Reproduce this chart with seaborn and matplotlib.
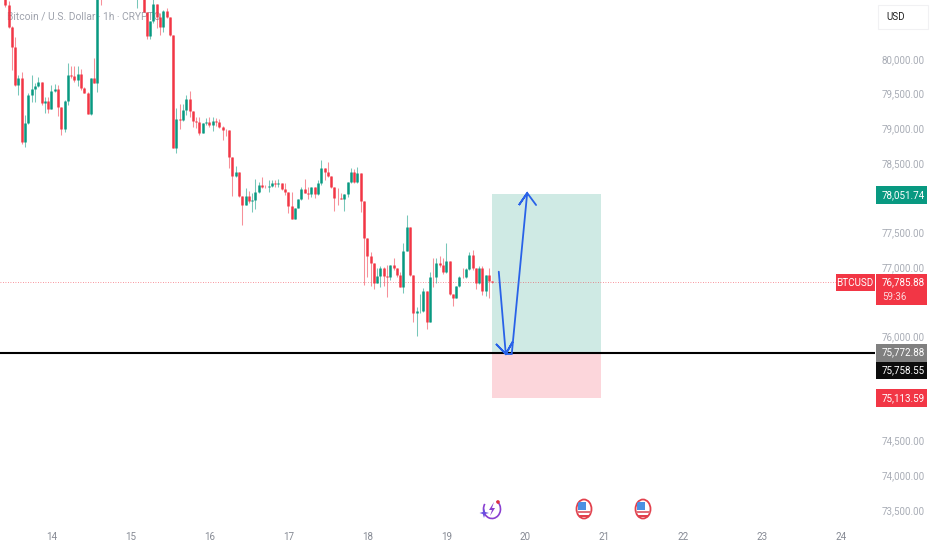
import matplotlib
matplotlib.use("Agg")
import matplotlib.pyplot as plt
from matplotlib.patches import Rectangle, Ellipse, Arc, Circle, Polygon
import numpy as np
import pandas as pd
import seaborn as sns

# hourly candles, readings (hour 0 = start of day 14, first candle is hour -14)
first_open = 80900
closes = [80783, 80466, 80168, 79620, 79731, 78799, 79073, 79481, 79568, 79611,
          79664, 79361, 79395, 79279, 79544, 79563, 79313, 78991, 79395, 79769,
          79755, 79697, 79779, 79582, 79515, 79207, 79721, 79659, 81400, 81050,
          81250, 81400, 81520, 81380, 81460, 81300, 81410, 81250, 81180, 81020,
          81150, 80990, 80682, 80331, 80552, 80792, 80600, 80456, 80687, 80600,
          80346, 78722, 79131, 79125, 79265, 79428, 79255, 79111, 79087, 78938,
          79083, 79090, 79054, 79111, 79092, 79025, 78977, 78970, 78593, 78319,
          78367, 78031, 77901, 78031, 77959, 77965, 78079, 78185, 78151, 78149,
          78175, 78209, 78199, 78218, 78122, 78079, 77887, 77690, 77858, 77983,
          78122, 78074, 78055, 78151, 78055, 78209, 78434, 78377, 78319, 78151,
          78002, 77992, 77985, 78050, 78223, 78377, 78223, 78362, 77954, 77416,
          77161, 77065, 76777, 76873, 76993, 76873, 76859, 77031, 76983, 76887,
          76719, 77238, 77584, 76887, 76345, 76365, 76375, 76657, 76205, 76863,
          76855, 77055, 77027, 76935, 77089, 76609, 76561, 76729, 76863, 76855,
          76969, 77175, 76983, 76767, 76983, 76657, 76887, 76806, 76786]
highs = [80950, 80830, 80480, 80312, 79769, 79817, 79193, 79505, 79769, 79649,
         79736, 79664, 79457, 79457, 79625, 79635, 79625, 79313, 79409, 79937,
         79899, 79899, 79899, 79856, 79590, 79529, 79721, 80009, 81450, 81420,
         81310, 81460, 81580, 81530, 81510, 81490, 81470, 81430, 81290, 81210,
         81200, 81150, 81000, 80682, 80552, 80860, 80792, 80658, 80706, 80730,
         80600, 80346, 79289, 79351, 79351, 79481, 79539, 79255, 79169, 79159,
         79083, 79145, 79169, 79159, 79145, 79131, 79035, 78990, 78977, 78593,
         78458, 78367, 78031, 78136, 78103, 78064, 78266, 78232, 78305, 78185,
         78257, 78257, 78257, 78266, 78218, 78209, 78079, 78088, 77858, 77983,
         78151, 78271, 78160, 78160, 78160, 78257, 78545, 78434, 78511, 78319,
         78151, 78136, 78064, 78050, 78223, 78425, 78410, 78449, 78362, 77954,
         77416, 77224, 77065, 76983, 77022, 77007, 77031, 77031, 77127, 76995,
         76935, 77344, 77752, 77584, 76887, 76431, 76609, 76695, 76657, 76935,
         77127, 77127, 77161, 77127, 77344, 77089, 76609, 76729, 76873, 76983,
         76983, 77224, 77248, 76983, 77017, 77022, 76887, 76983, 76806]
lows = [80750, 80440, 79841, 79611, 79481, 78780, 78737, 79060, 79385, 79385,
        79592, 79337, 79217, 79217, 79279, 79529, 79183, 78910, 78953, 79337,
        79721, 79673, 79611, 79553, 79505, 79207, 79193, 79649, 79529, 80778,
        81020, 81200, 81350, 81320, 81350, 81250, 81260, 81200, 81130, 80960,
        80730, 80900, 80682, 80293, 80293, 80514, 80442, 80346, 80394, 80586,
        80336, 78713, 78641, 78986, 79111, 79193, 79169, 79025, 79001, 78905,
        78929, 79049, 79025, 78967, 79034, 79001, 78833, 78890, 78425, 78031,
        78305, 78016, 77608, 77896, 77920, 77791, 77839, 78064, 78136, 78136,
        78088, 78151, 78160, 78160, 78112, 78040, 77776, 77690, 77690, 77848,
        77968, 78064, 77983, 78016, 77992, 78040, 78185, 78257, 78305, 78140,
        77815, 77896, 77980, 77815, 78016, 78209, 78209, 78209, 77800, 76743,
        76863, 76729, 76681, 76767, 76719, 76729, 76565, 76815, 76959, 76863,
        76710, 76623, 77238, 76880, 76215, 76013, 76335, 76360, 76109, 76205,
        76719, 76767, 77007, 76902, 76911, 76600, 76445, 76551, 76710, 76839,
        76839, 76959, 76959, 76681, 76758, 76599, 76590, 76551, 76770]

# position tool
target_price = 78051.74
entry_price = 75772.88
stop_price = 75113.59
box_start = 133.9
box_end = 167.0
level_price = 75758.55
last_price = 76785.88

# hand-drawn blue path (two strokes, each ends in an arrow head)
arrow_hours = [135.96, 138.09, 135.14, 138.09, 140.2, 138.09, 139.9, 144.6, 142.1, 144.6, 147.3]
arrow_prices = [76935, 75749, 75893, 75749, 75926, 75749, 75749, 78069, 77896, 78069, 77896]

# 78,000 / 76,500 / 75,500 / 75,000 sit behind the price badges in the reference
price_ticks = [80000, 79500, 79000, 78500, 77500, 77000, 76000, 74500, 74000, 73500]
days = [14, 15, 16, 17, 18, 19, 20, 21, 22, 23, 24]

GREEN = "#089981"
RED = "#f23645"
GREY_TXT = "#a9adb6"
LABEL_SIZE = 7.1

sns.set_style("white")
plt.rcParams["font.family"] = ["Roboto", "DejaVu Sans"]

hours = np.arange(len(closes)) - 14
opens = [first_open] + closes[:-1]
df = pd.DataFrame({"hour": hours, "open": opens, "high": highs, "low": lows, "close": closes})
df["dir"] = np.where(df["close"] >= df["open"], "up", "down")
colors = {"up": GREEN, "down": RED}

wicks = df.melt(id_vars=["hour", "dir"], value_vars=["high", "low"], value_name="price")
bodies = df.melt(id_vars=["hour", "dir"], value_vars=["open", "close"], value_name="price")

fig = plt.figure(figsize=(9.32, 5.5), dpi=100)
ax = fig.add_axes([0, 27 / 550, 875 / 932, 523 / 550])

ax.text(7 / 875, 1 - 16 / 523, "Bitcoin / U.S. Dollar · 1h · CRYPTO", transform=ax.transAxes,
        fontsize=7.4, color="#9ea2ac", va="center", zorder=0.5)

ax.add_patch(Rectangle((box_start, entry_price), box_end - box_start, target_price - entry_price,
                       color="#cfeae4", lw=0, zorder=1))
ax.add_patch(Rectangle((box_start, stop_price), box_end - box_start, entry_price - stop_price,
                       color="#fcd6db", lw=0, zorder=1))

ax.axhline(last_price, color=RED, lw=0.6, ls=(0, (1, 2)), alpha=0.7, zorder=1.5)

sns.lineplot(data=wicks, x="hour", y="price", hue="dir", units="hour", estimator=None,
             palette=colors, linewidth=0.75, alpha=0.55, legend=False, ax=ax, zorder=2,
             solid_capstyle="butt")
sns.lineplot(data=bodies, x="hour", y="price", hue="dir", units="hour", estimator=None,
             palette=colors, linewidth=1.8, legend=False, ax=ax, zorder=3,
             solid_capstyle="butt")

ax.axhline(level_price, color="black", lw=1.5, zorder=4)
ax.plot(arrow_hours, arrow_prices, color="#2962e8", lw=1.3, zorder=5, solid_joinstyle="miter")

ax.set_xlim(-15.62, 250.3)
ax.set_ylim(73314, 80850)
ax.set_xlabel("")
ax.set_ylabel("")
ax.set_xticks([(d - 14) * 24 for d in days])
ax.set_xticklabels([str(d) for d in days])
ax.set_yticks(price_ticks)
ax.set_yticklabels([f"{p:,.2f}" for p in price_ticks])
ax.yaxis.tick_right()
ax.tick_params(axis="y", length=0, pad=5, labelsize=LABEL_SIZE, labelcolor=GREY_TXT)
ax.tick_params(axis="x", length=0, pad=6.5, labelsize=LABEL_SIZE, labelcolor="#868a94")
sns.despine(ax=ax, left=True, right=True, top=True, bottom=True)

# overlay in picture pixels for the price badges and event icons
ov = fig.add_axes([0, 0, 1, 1])
ov.set_xlim(0, 932)
ov.set_ylim(550, 0)
ov.axis("off")
ov.patch.set_alpha(0)


def badge(x0, x1, y0, y1, color):
    ov.add_patch(Rectangle((x0, y0), x1 - x0, y1 - y0, color=color, lw=0))


badge(875.7, 927.3, 186, 203.7, GREEN)
ov.text(882, 195, f"{target_price:,.2f}", color="white", fontsize=LABEL_SIZE, va="center")
badge(835.7, 874.7, 274, 291, RED)
ov.text(855.2, 282.5, "BTCUSD", color="white", fontsize=LABEL_SIZE, va="center", ha="center")
badge(875.7, 927.3, 274, 305, RED)
ov.text(882, 282.5, f"{last_price:,.2f}", color="white", fontsize=LABEL_SIZE, va="center")
ov.text(882, 296.5, "59:36", color="#fbd5d9", fontsize=LABEL_SIZE, va="center")
badge(875.7, 927.3, 344, 361.7, "#808080")
ov.text(882, 352.5, f"{entry_price:,.2f}", color="white", fontsize=LABEL_SIZE, va="center")
badge(875.7, 927.3, 361.7, 379, "#0c0c0c")
ov.text(882, 370, f"{level_price:,.2f}", color="white", fontsize=LABEL_SIZE, va="center")
badge(875.7, 927.3, 389, 406.7, RED)
ov.text(882, 398, f"{stop_price:,.2f}", color="white", fontsize=LABEL_SIZE, va="center")

# currency button
ov.add_patch(Rectangle((878, 5), 50, 24, facecolor="white", edgecolor="#f1f1f3", lw=0.8))
ov.text(886, 16.5, "USD", color="#222222", fontsize=LABEL_SIZE, va="center")

# earnings style icon
PURPLE = "#8a3fd1"
ov.add_patch(Arc((492, 509), 17, 19, theta1=-60, theta2=215, color=PURPLE, lw=1.2))
ov.add_patch(Polygon([(494, 502), (489, 510), (492, 510), (490, 516), (495, 508), (492, 508)],
                     color=PURPLE, lw=0))
ov.add_patch(Polygon([(484, 508), (485.2, 512), (489, 513), (485.2, 514), (484, 518),
                      (482.8, 514), (479.5, 513), (482.8, 512)], color="#6a4de0", lw=0))
ov.add_patch(Circle((498, 502), 1.8, color="#e0303f", lw=0))

# US event flags
for cx in [584, 643]:
    shape = Ellipse((cx, 509), 15, 19, facecolor="white", edgecolor="#e2404c", lw=1.3)
    ov.add_patch(shape)
    stripe = Rectangle((cx - 8, 510.5), 16, 2.2, color="#e2707a", lw=0)
    low = Rectangle((cx - 8, 514.5), 16, 2.5, color="#e2404c", lw=0)
    canton = Rectangle((cx - 6, 502), 7.5, 7.5, color="#4a90e2", lw=0)
    for piece in [stripe, low, canton]:
        ov.add_patch(piece)
        piece.set_clip_path(shape)

fig.savefig("out.png", dpi=100)
